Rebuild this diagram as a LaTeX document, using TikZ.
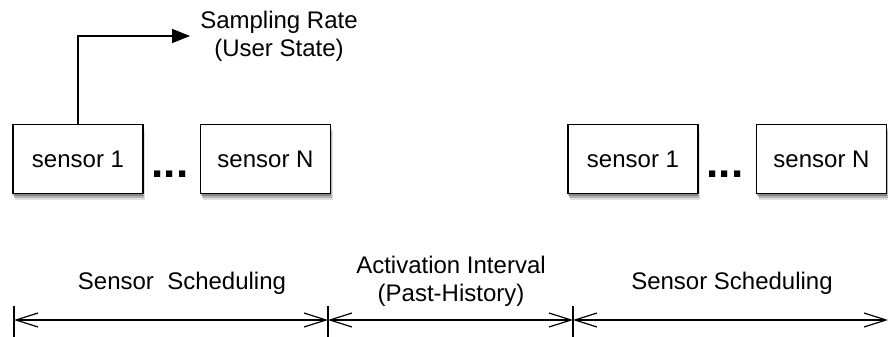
\documentclass[tikz,border=0pt]{standalone}
\usepackage{fontspec}
\setmainfont{Liberation Sans}
\usetikzlibrary{arrows.meta,positioning,shadows}

\begin{document}
\begin{tikzpicture}[
  x=1pt, y=-1pt, font=\fontsize{24}{28}\selectfont, node distance=56pt,
  sensor/.style={draw, line width=1.5pt, fill=white, minimum width=130pt, minimum height=69pt, inner sep=0pt,
    drop shadow={shadow xshift=2pt, shadow yshift=-6pt, opacity=.12, fill=black},
    drop shadow={shadow xshift=1pt, shadow yshift=-4pt, opacity=.2, fill=black},
    drop shadow={shadow xshift=0pt, shadow yshift=-2pt, opacity=.25, fill=black}},
  dots/.style={font=\fontsize{44}{44}\selectfont\bfseries, inner sep=0pt, anchor=base},
  lbl/.style={align=center, inner sep=0pt},
  span/.style={line width=1.2pt, {Straight Barb[length=22pt,width=14pt,line width=1.2pt]}-{Straight Barb[length=22pt,width=14pt,line width=1.2pt]}},
  rel/.style={line width=1.5pt, -{Triangle[length=18pt,width=14pt]}}
]
\useasboundingbox (0,0) rectangle (888,337);

% first scheduling round
\node[sensor] (s1) at (78,159) {sensor 1};
\node[sensor, right=of s1] (sN) {sensor N};
\node[dots] (sdots) at (170,177) {...};

% second scheduling round
\node[sensor] (r1) at (633,159) {sensor 1};
\node[sensor, right=57pt of r1] (rN) {sensor N};
\node[dots] (rdots) at (725,177) {...};

% output of sensor 1
\node[lbl, inner sep=10pt] (rate) at (279,36) {Sampling Rate\\(User State)};
\draw[rel] (s1.north) |- (rate.west);

% time axis
\coordinate (t0) at (14,320);
\coordinate (t1) at (328,320);
\coordinate (t2) at (573,320);
\coordinate (t3) at (888,320);
\foreach \t in {t0,t1,t2}
  \draw[line width=1.2pt] ([yshift=14pt]\t) -- ([yshift=-17pt]\t);
\draw[span] (t0) -- (t1);
\draw[span] (t1) -- (t2);
\draw[span] (t2) -- (t3);

\node[lbl] (phaseA) at (182,283) {Sensor~~Scheduling};
\node[lbl] (phaseB) at (451,281) {Activation Interval\\(Past-History)};
\node[lbl] (phaseC) at (732,283) {Sensor Scheduling};
\end{tikzpicture}
\end{document}
